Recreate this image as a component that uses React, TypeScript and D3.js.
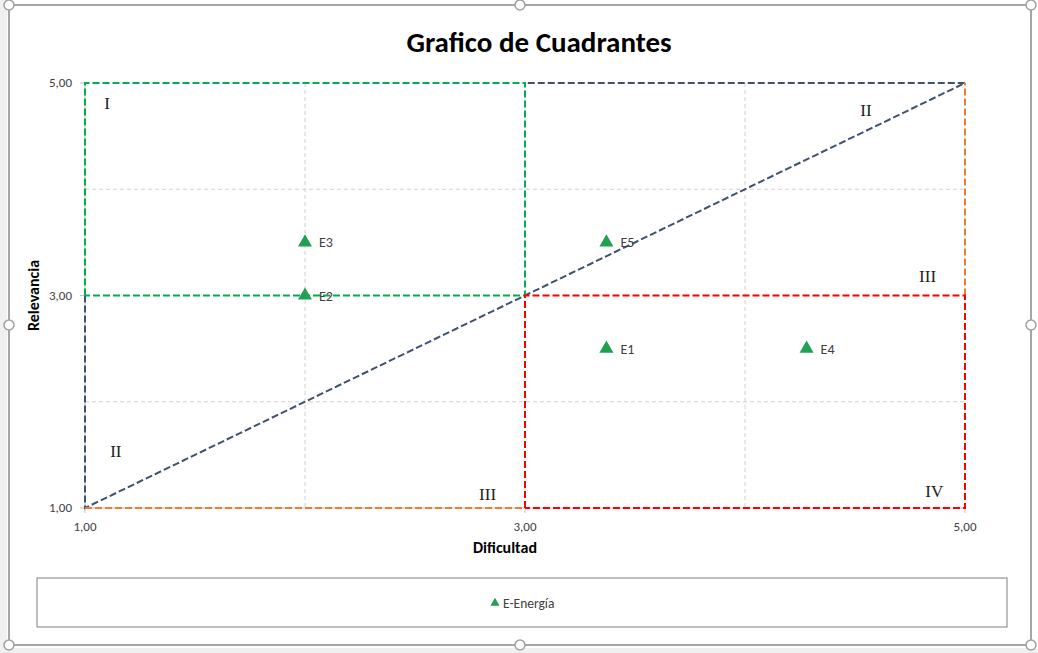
import React from "react";
import * as d3 from "d3";

const W = 1038, H = 653;
const xTicks = [1, 3, 5];
const yTicks = [1, 3, 5];
const gridX = [2, 4];
const gridY = [2, 4];

const pointNames = ["E1", "E2", "E3", "E4", "E5"];
const pointX = [3.37, 2, 2, 4.28, 3.37];
const pointY = [2.5, 3, 3.5, 2.5, 3.5];

const greenX = [1, 1, 3, 3, 1];
const greenY = [3, 5, 5, 3, 3];
const navyX = [1, 1, 5, 3];
const navyY = [3, 1, 5, 5];
const orangeX1 = [1, 3];
const orangeY1 = [1, 1];
const orangeX2 = [5, 5];
const orangeY2 = [3, 5];
const redX = [3, 3, 5, 5, 3];
const redY = [1, 3, 3, 1, 1];

const quadLabels = ["I", "II", "III", "II", "III", "IV"];
const quadLabelX = [1.1, 4.55, 4.83, 1.14, 2.83, 4.86];
const quadLabelY = [4.81, 4.75, 3.18, 1.54, 1.13, 1.16];

const fmt = (v: number) => v.toFixed(2).replace(".", ",");

export default function App() {
  const x = d3.scaleLinear().domain([1, 5]).range([85, 965]);
  const y = d3.scaleLinear().domain([1, 5]).range([508, 83]);
  const line = (xs: number[], ys: number[]) =>
    d3.line<number>().x((_, i) => x(xs[i])).y((_, i) => y(ys[i]))(xs) || "";
  const tri = d3.symbol().type(d3.symbolTriangle).size(85)() || "";
  const triSmall = d3.symbol().type(d3.symbolTriangle).size(36)() || "";
  const sans = "Calibri, Carlito, 'Open Sans', 'Liberation Sans', sans-serif";
  const dash = "7,3";
  const handles = [
    [9, 5], [520, 5], [1031, 5], [9, 325], [1031, 325], [9, 645], [520, 645], [1031, 645],
  ];
  return (
    <svg width={W} height={H} style={{ position: "absolute", left: 0, top: 0 }} fontFamily={sans}>
      <rect x={0} y={0} width={W} height={H} fill="#f0f0f0" />
      <rect x={7} y={0} width={W - 7} height={648} fill="#ffffff" />
      <rect x={9} y={5} width={1022} height={640} fill="#ffffff" stroke="#a6a6a6" strokeWidth={2} />
      <text x={539} y={52} textAnchor="middle" fontSize={29} fontWeight="bold" fill="#000">
        Grafico de Cuadrantes
      </text>
      {gridX.map((g) => (
        <line key={"gx" + g} x1={x(g)} x2={x(g)} y1={y(5)} y2={y(1)} stroke="#d0d0d0" strokeDasharray="4,3" />
      ))}
      {gridY.map((g) => (
        <line key={"gy" + g} x1={x(1)} x2={x(5)} y1={y(g)} y2={y(g)} stroke="#d0d0d0" strokeDasharray="4,3" />
      ))}
      <line x1={x(1)} x2={x(1)} y1={y(5)} y2={y(1)} stroke="#bfbfbf" />
      <line x1={x(1)} x2={x(5)} y1={y(1)} y2={y(1)} stroke="#bfbfbf" />
      {yTicks.map((t) => (
        <g key={"yt" + t}>
          <line x1={x(1) - 5} x2={x(1)} y1={y(t)} y2={y(t)} stroke="#bfbfbf" />
          <text x={x(1) - 13} y={y(t) + 4} textAnchor="end" fontSize={13} fill="#404040">
            {fmt(t)}
          </text>
        </g>
      ))}
      {xTicks.map((t) => (
        <g key={"xt" + t}>
          <line x1={x(t)} x2={x(t)} y1={y(1)} y2={y(1) + 5} stroke="#bfbfbf" />
          <text x={x(t)} y={y(1) + 23} textAnchor="middle" fontSize={13} fill="#404040">
            {fmt(t)}
          </text>
        </g>
      ))}
      <text x={505} y={553} textAnchor="middle" fontSize={16} fontWeight="bold" fill="#000">
        Dificultad
      </text>
      <text transform={`translate(39,${y(3)}) rotate(-90)`} textAnchor="middle" fontSize={16} fontWeight="bold" fill="#000">
        Relevancia
      </text>
      <path d={line(navyX, navyY)} fill="none" stroke="#3e5270" strokeWidth={2} strokeDasharray={dash} />
      <path d={line(greenX, greenY)} fill="none" stroke="#00b050" strokeWidth={2} strokeDasharray={dash} />
      <path d={line(orangeX1, orangeY1)} fill="none" stroke="#ed7d31" strokeWidth={2} strokeDasharray={dash} />
      <path d={line(orangeX2, orangeY2)} fill="none" stroke="#ed7d31" strokeWidth={2} strokeDasharray={dash} />
      <path d={line(redX, redY)} fill="none" stroke="#ff0000" strokeWidth={2} strokeDasharray={dash} />
      {quadLabels.map((l, i) => (
        <text key={"q" + i} x={x(quadLabelX[i])} y={y(quadLabelY[i]) + 6} textAnchor="middle"
          fontFamily="'Liberation Serif', 'Times New Roman', serif" fontSize={17} fill="#222">
          {l}
        </text>
      ))}
      {pointNames.map((n, i) => (
        <g key={n}>
          <path d={tri} transform={`translate(${x(pointX[i])},${y(pointY[i])})`} fill="#22a052" />
          <text x={x(pointX[i]) + 14} y={y(pointY[i]) + 5} fontSize={14} fill="#404040">
            {n}
          </text>
        </g>
      ))}
      <rect x={37} y={578} width={970} height={49} fill="none" stroke="#7f7f7f" strokeWidth={1} />
      <path d={triSmall} transform="translate(495,603)" fill="#22a052" />
      <text x={503} y={608} fontSize={13.5} fill="#404040">E-Energía</text>
      {handles.map(([hx, hy], i) => (
        <circle key={"h" + i} cx={hx} cy={hy} r={5} fill="#fff" stroke="#a0a0a0" strokeWidth={1.5} />
      ))}
    </svg>
  );
}
